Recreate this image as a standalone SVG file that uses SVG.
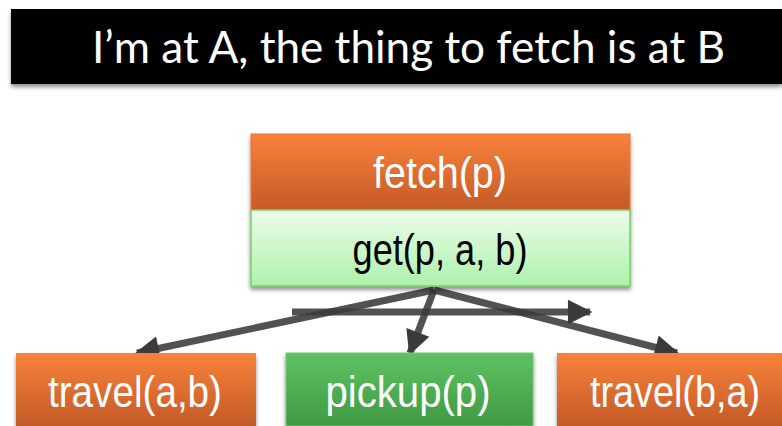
<svg xmlns="http://www.w3.org/2000/svg" width="782" height="426" viewBox="0 0 782 426">
  <defs>
    <linearGradient id="orange" x1="0" y1="0" x2="0" y2="1">
      <stop offset="0" stop-color="#F8823A"/>
      <stop offset="1" stop-color="#C45A28"/>
    </linearGradient>
    <linearGradient id="lightgreen" x1="0" y1="0" x2="0" y2="1">
      <stop offset="0" stop-color="#EDFCEB"/>
      <stop offset="1" stop-color="#ADF2AB"/>
    </linearGradient>
    <linearGradient id="green" x1="0" y1="0" x2="0" y2="1">
      <stop offset="0" stop-color="#5EC262"/>
      <stop offset="1" stop-color="#3F9A44"/>
    </linearGradient>
    <filter id="shadow" x="-5%" y="-10%" width="110%" height="130%">
      <feGaussianBlur in="SourceAlpha" stdDeviation="2"/>
      <feOffset dx="0" dy="3" result="b"/>
      <feComponentTransfer><feFuncA type="linear" slope="0.45"/></feComponentTransfer>
      <feMerge><feMergeNode/><feMergeNode in="SourceGraphic"/></feMerge>
    </filter>
    <marker id="head" viewBox="0 0 10 10" refX="9" refY="5" markerWidth="4" markerHeight="3.5" orient="auto" markerUnits="strokeWidth">
      <path d="M0,0 L10,5 L0,10 Z" fill="#3a3a3a"/>
    </marker>
  </defs>
  <style>
    .lbl { font-family: "Liberation Sans", Arial, sans-serif; font-size: 44px; text-anchor: middle; }
    .white { fill: #ffffff; }
    .dark { fill: #000000; }
    .title { font-family: "Lato", "Liberation Sans", sans-serif; font-size: 44px; fill: #ffffff; }
    .edge { stroke: #3a3a3a; stroke-width: 7; fill: none; stroke-opacity: 0.88; marker-end: url(#head); }
  </style>

  <!-- heading bar -->
  <g id="heading">
    <rect x="11" y="9" width="771" height="75" fill="#000000" filter="url(#shadow)"/>
    <text class="title" x="92" y="63" textLength="633" lengthAdjust="spacingAndGlyphs">I’m at A, the thing to fetch is at B</text>
  </g>

  <!-- connectors -->
  <g id="connectors">
    <line class="edge" x1="292" y1="312" x2="590" y2="312"/>
    <line class="edge" x1="434" y1="290" x2="137" y2="353"/>
    <line class="edge" x1="434" y1="290" x2="410" y2="353"/>
    <line class="edge" x1="434" y1="290" x2="677" y2="353"/>
  </g>

  <!-- compound task -->
  <g id="fetch">
    <rect x="251" y="134" width="379" height="76" fill="url(#orange)" stroke="#E07840" stroke-width="1" filter="url(#shadow)"/>
    <text class="lbl white" x="440" y="188" textLength="134" lengthAdjust="spacingAndGlyphs">fetch(p)</text>
  </g>

  <!-- method -->
  <g id="get">
    <rect x="251" y="210" width="379" height="76" fill="url(#lightgreen)" stroke="#78CC6C" stroke-width="1.5" filter="url(#shadow)"/>
    <text class="lbl dark" x="440" y="265" textLength="175" lengthAdjust="spacingAndGlyphs">get(p, a, b)</text>
  </g>

  <!-- subtasks -->
  <g id="travel_ab">
    <rect x="16" y="353" width="240" height="73" fill="url(#orange)" filter="url(#shadow)"/>
    <text class="lbl white" x="135" y="407" textLength="174" lengthAdjust="spacingAndGlyphs">travel(a,b)</text>
  </g>
  <g id="pickup">
    <rect x="286" y="353" width="247" height="73" fill="url(#green)" stroke="#6CC86C" stroke-width="1" filter="url(#shadow)"/>
    <text class="lbl white" x="408" y="407" textLength="165" lengthAdjust="spacingAndGlyphs">pickup(p)</text>
  </g>
  <g id="travel_ba">
    <rect x="557" y="353" width="225" height="73" fill="url(#orange)" filter="url(#shadow)"/>
    <text class="lbl white" x="675" y="407" textLength="170" lengthAdjust="spacingAndGlyphs">travel(b,a)</text>
  </g>
</svg>
